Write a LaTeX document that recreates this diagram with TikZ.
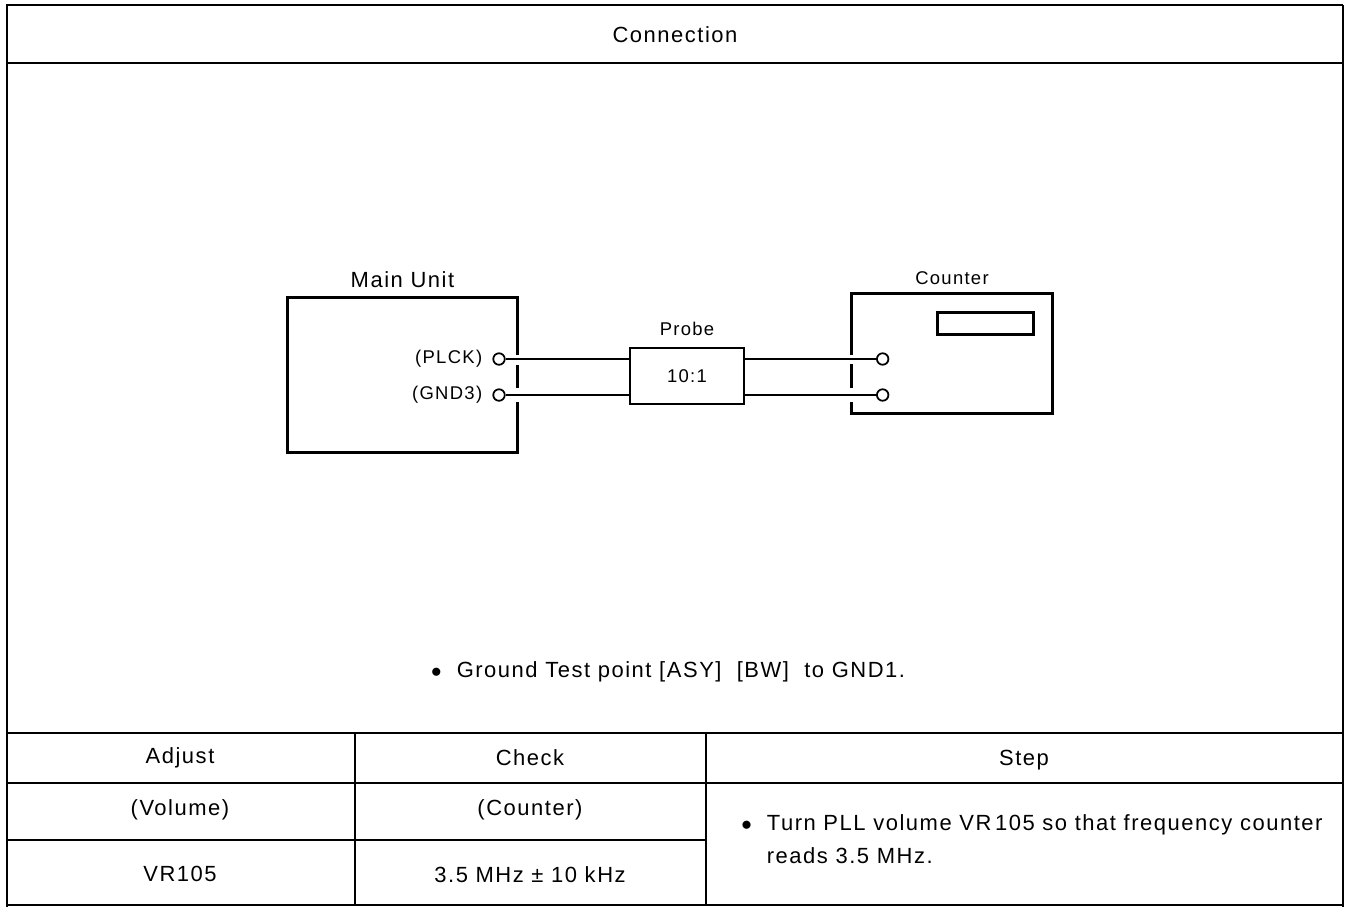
\documentclass[tikz,border=0pt]{standalone}
\usepackage{fontspec}
\setmainfont{Liberation Sans}[LetterSpace=7]
\usetikzlibrary{positioning,calc}

\begin{document}
\begin{tikzpicture}[
    x=0.02cm, y=-0.02cm,
    frame/.style={line width=1.6pt},
    rule/.style={line width=1pt},
    unit/.style={line width=1.5pt},
    thickunit/.style={line width=1.9pt},
    term/.style={circle, draw, line width=1pt, inner sep=0pt, minimum size=0.23cm},
    wire/.style={line width=1pt},
    txt/.style={font=\fontsize{12.5}{18.8}\selectfont},
    lbl/.style={font=\fontsize{10.5}{12}\selectfont},
]
\useasboundingbox (0,0) rectangle (1346,907);

% === FRAME AND TABLE ===
\draw[frame] (7,907) -- (7,5) -- (1343,5);
\draw[rule] (1343,5) -- (1343,907);
\draw[rule] (7,63) -- (1343,63);
\draw[rule] (7,733) -- (1343,733);
\draw[rule] (7,783) -- (1343,783);
\draw[rule] (7,840) -- (706,840);
\draw[rule] (7,905) -- (1343,905);
\draw[rule] (355,733) -- (355,905);
\draw[rule] (706,733) -- (706,905);

\node[txt] (title) at (675,35) {Connection};

% === MAIN UNIT ===
\node[minimum width=4.58cm, minimum height=3.08cm, inner sep=0pt] (main) at (402.5,375) {};
\draw[unit] (main.east |- 0,355) -- (main.north east) -- (main.north west) -- (main.south west) -- (main.south east) -- (main.east |- 0,402);
\draw[unit] (main.east |- 0,365) -- (main.east |- 0,388);
\node[txt, above=0.08cm of main] (mainlbl) {Main Unit};

\node[term] (plck) at (499,359) {};
\node[term] (gnd) at (499,395) {};
\node[lbl, left=0.08cm of plck] (plcklbl) {(PLCK)};
\node[lbl, left=0.08cm of gnd] (gndlbl) {(GND3)};

% === PROBE ===
\node[draw, unit, lbl, minimum width=2.28cm, minimum height=1.12cm] (probe) at (687,376) {10:1};
\node[lbl, above=0.1cm of probe] (probelbl) {Probe};

% === COUNTER ===
\node[minimum width=4cm, minimum height=2.38cm, inner sep=0pt] (counter) at (952,353.5) {};
\draw[thickunit] (counter.west |- 0,355) -- (counter.north west) -- (counter.north east) -- (counter.south east) -- (counter.south west) -- (counter.west |- 0,402);
\draw[thickunit] (counter.west |- 0,364) -- (counter.west |- 0,388);
\node[draw, thickunit, minimum width=1.92cm, minimum height=0.44cm, inner sep=0pt, below left=0.34cm and 0.34cm of counter.north east] (display) {};
\node[lbl, above=0.06cm of counter] (counterlbl) {Counter};

\node[term, xshift=0.62cm] (cin1) at (counter.west |- plck) {};
\node[term, xshift=0.62cm] (cin2) at (counter.west |- gnd) {};

\draw[wire] (plck) -- (probe.west |- plck);
\draw[wire] (gnd) -- (probe.west |- gnd);
\draw[wire] (probe.east |- plck) -- (cin1);
\draw[wire] (probe.east |- gnd) -- (cin2);

\node[txt, anchor=west] (note) at (425,672) {$\bullet$\hspace{0.3cm}Ground Test point [ASY]\ \ [BW]\ \ to GND1.};

% === TABLE TEXT ===
\node[txt] (adjust) at (180,758) {Adjust};
\node[txt] (check) at (530,758) {Check};
\node[txt] (step) at (1024,760) {Step};
\node[txt] (volume) at (180,810) {(Volume)};
\node[txt] (countercol) at (530,810) {(Counter)};
\node[txt] (vr) at (180,874) {VR105};
\node[txt] (freq) at (530,875) {3.5 MHz ± 10 kHz};
\node[txt, anchor=west, inner sep=0pt] (steptext) at (741,840) {\begin{tabular}{@{}l@{\hspace{0.3cm}}l@{}}$\bullet$ & Turn PLL volume VR\,105 so that frequency counter\\ & reads 3.5 MHz.\end{tabular}};

\end{tikzpicture}
\end{document}
